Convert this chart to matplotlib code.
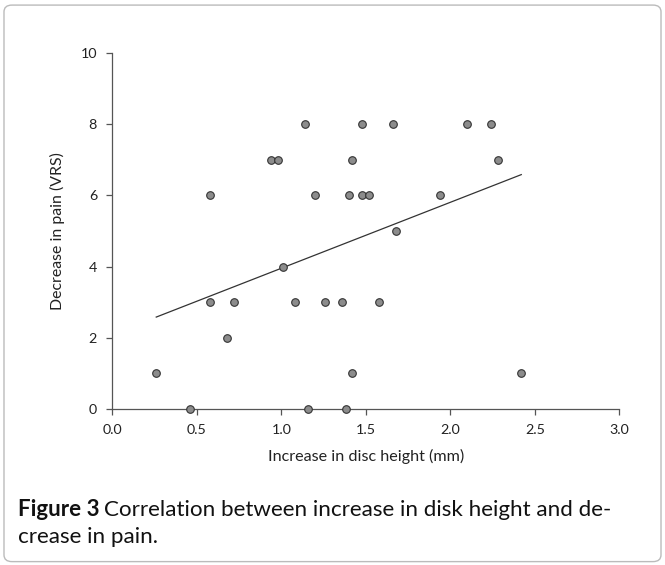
import numpy as np
import matplotlib.pyplot as plt
from matplotlib.patches import FancyBboxPatch

# increase in disc height (mm) vs decrease in pain (VRS)
disc_height = [0.26, 0.46, 0.58, 0.58, 0.68, 0.72, 0.94, 0.98, 1.01, 1.08,
               1.14, 1.16, 1.20, 1.26, 1.36, 1.38, 1.40, 1.42, 1.42, 1.48,
               1.48, 1.52, 1.58, 1.66, 1.68, 1.94, 2.10, 2.24, 2.28, 2.42]
pain_decrease = [1, 0, 6, 3, 2, 3, 7, 7, 4, 3,
                 8, 0, 6, 3, 3, 0, 6, 7, 1, 8,
                 6, 6, 3, 8, 5, 6, 8, 8, 7, 1]
x_ticks = [0.0, 0.5, 1.0, 1.5, 2.0, 2.5, 3.0]
y_ticks = [0, 2, 4, 6, 8, 10]

plt.rcParams['font.family'] = ['Lato', 'DejaVu Sans']

W, H = 665, 565
fig = plt.figure(figsize=(W / 100, H / 100), dpi=100)
ax = fig.add_axes([112.3 / W, 1 - 408.7 / H, 507 / W, 355.4 / H])

# rounded frame around the whole figure
frame = FancyBboxPatch((0.006, 0.006), 0.988, 0.985, boxstyle="round,pad=0,rounding_size=0.012",
                       transform=fig.transFigure, fill=False, edgecolor="#bbbbbb", linewidth=1)
fig.patches.append(frame)

x = np.array(disc_height)
y = np.array(pain_decrease)
slope, icpt = np.polyfit(x, y, 1)
xl = np.array([x.min(), x.max()])
ax.plot(xl, slope * xl + icpt, color="#333333", linewidth=0.9, zorder=2)

ax.scatter(x, y, s=30, facecolor="#8c8c8c", edgecolor="#333333", linewidth=0.8, zorder=3, clip_on=False)

ax.set_xlim(0, 3)
ax.set_ylim(0, 10)
ax.set_xticks(x_ticks)
ax.set_xticklabels([f"{t:.1f}" for t in x_ticks])
ax.set_yticks(y_ticks)
for s in ["top", "right"]:
    ax.spines[s].set_visible(False)
for s in ["left", "bottom"]:
    ax.spines[s].set_color("#555555")
    ax.spines[s].set_linewidth(0.9)
ax.tick_params(direction="out", length=4, width=0.9, color="#555555", labelsize=10.3,
               labelcolor="#222222", pad=7)

ax.set_xlabel("Increase in disc height (mm)", fontsize=11, color="#222222", labelpad=9)
ax.set_ylabel("Decrease in pain (VRS)", fontsize=11, color="#222222", labelpad=11)

# caption: bold "Figure 3" followed by regular text
cx = 18 / W
t1 = fig.text(cx, 1 - 510 / H, "Figure 3", fontsize=15, fontweight="bold", va="center", color="#111111")
t2 = fig.text(0.3, 1 - 510 / H, "Correlation between increase in disk height and de-",
              fontsize=15, va="center", color="#111111")
t3 = fig.text(cx, 1 - 537 / H, "crease in pain.", fontsize=15, va="center", color="#111111")

# size the texts to the widths measured on the reference
r = fig.canvas.get_renderer()
xlab = ax.xaxis.label
k = 196 / xlab.get_window_extent(r).width
xlab.set_fontsize(xlab.get_fontsize() * k)
ylab = ax.yaxis.label
k = 157 / ylab.get_window_extent(r).height
ylab.set_fontsize(ylab.get_fontsize() * k)

def caption_width():
    b1 = t1.get_window_extent(r)
    t2.set_x((b1.x1 + 0.28 * t2.get_fontsize()) / W)
    return t2.get_window_extent(r).x1 - b1.x0

k = (610 - 18) / caption_width()
for t in (t1, t2, t3):
    t.set_fontsize(t.get_fontsize() * k)
caption_width()

fig.savefig("out.png", dpi=100)
